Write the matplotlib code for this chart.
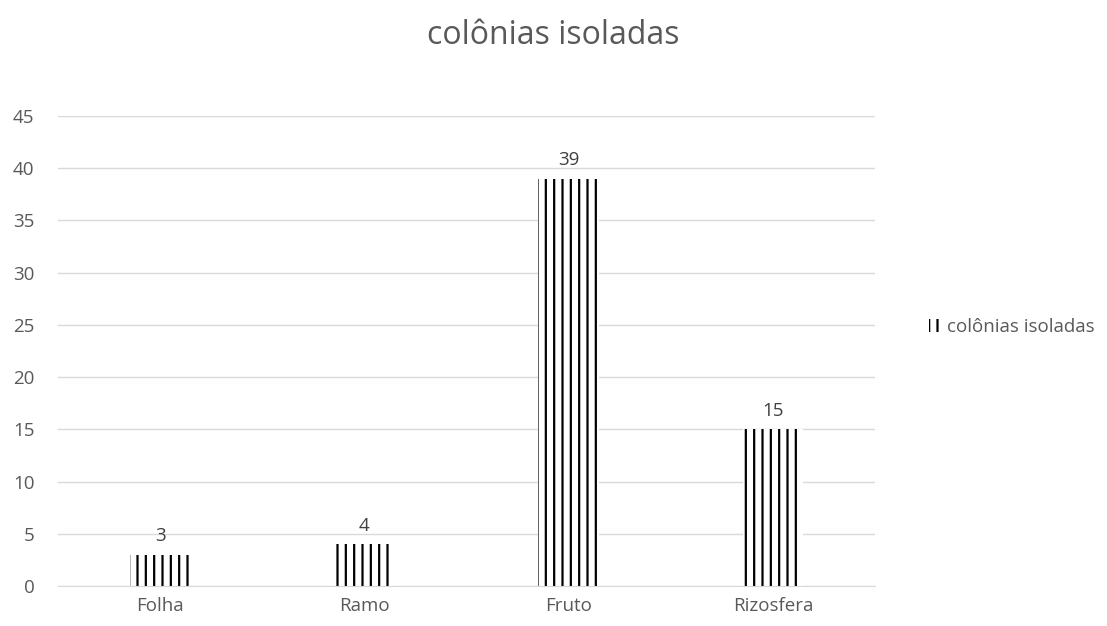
import matplotlib
matplotlib.use('Agg')
import matplotlib.pyplot as plt
import numpy as np

plt.rcParams.update({
    'font.family': ['Open Sans', 'DejaVu Sans'],
    'hatch.linewidth': 1.6,
    'hatch.color': 'black',
})

categories = ["Folha", "Ramo", "Fruto", "Rizosfera"]
values = [3, 4, 39, 15]
series_name = "colônias isoladas"
yticks = [0, 5, 10, 15, 20, 25, 30, 35, 40, 45]

text_color = '#595959'
grid_color = '#d9d9d9'

fig = plt.figure(figsize=(11.07, 6.26), dpi=100)
ax = fig.add_axes([0.0524, 0.0639, 0.7380, 0.7508])

x = np.arange(len(categories))
bars = ax.bar(x, values, width=0.295, color='white', edgecolor='black',
              linewidth=0, hatch='||', label=series_name, zorder=2)

for xi, v in zip(x, values):
    ax.text(xi, v + 0.9, str(v), ha='center', va='bottom', fontsize=13.5,
            color='#404040')

ax.set_xlim(-0.5, len(categories) - 0.5)
ax.set_ylim(0, 45)
ax.set_yticks(yticks)
ax.set_xticks(x)
ax.set_xticklabels(categories)
ax.tick_params(axis='both', length=0, labelsize=13.5, colors=text_color, pad=8)
ax.tick_params(axis='y', pad=17)
ax.yaxis.grid(True, color=grid_color, linewidth=1, zorder=0)
ax.set_axisbelow(True)
for s in ['top', 'right', 'left']:
    ax.spines[s].set_visible(False)
ax.spines['bottom'].set_color(grid_color)

fig.text(0.5, 0.944, series_name, ha='center', va='center', fontsize=23,
         color=text_color)

fig.legend(handles=[bars], labels=[series_name], loc='center left',
           bbox_to_anchor=(0.832, 0.477), frameon=False, fontsize=13.5,
           labelcolor=text_color, handlelength=0.55, handleheight=0.7,
           handletextpad=0.45, borderaxespad=0)

fig.savefig('out.png', dpi=100)
plt.close(fig)
